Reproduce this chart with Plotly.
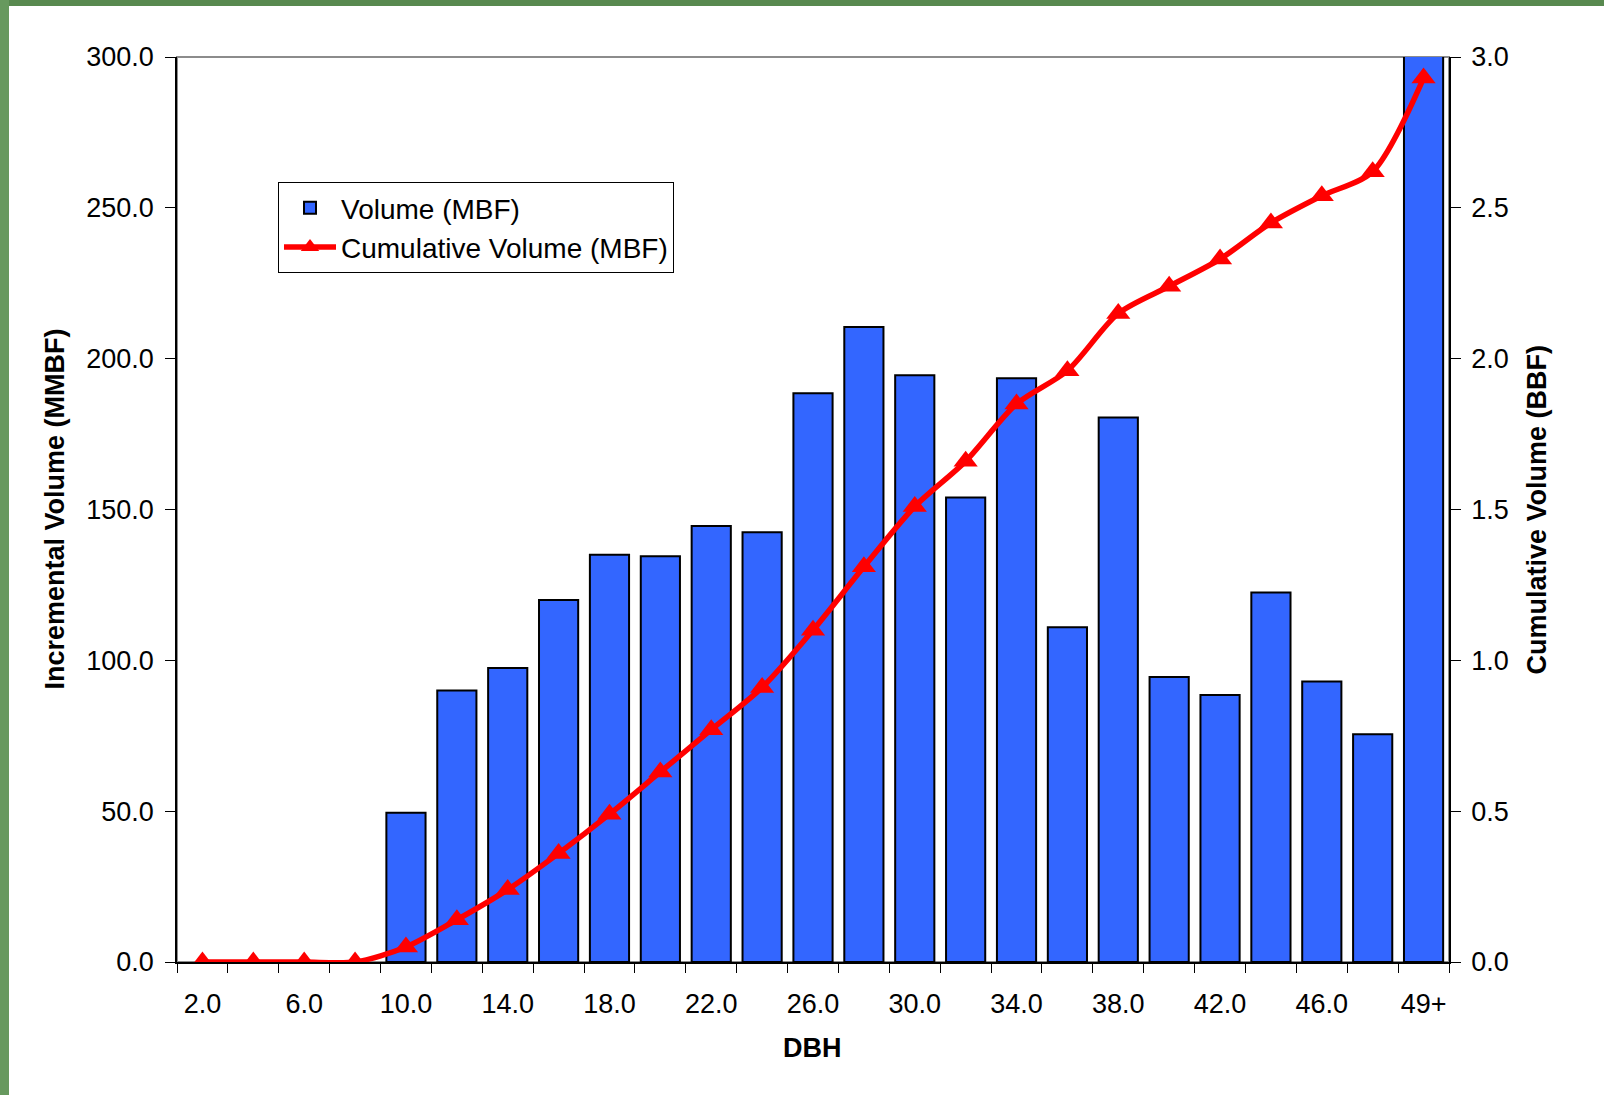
import plotly.graph_objects as go

# ---- data ----
dbh_labels = ["2.0", "4.0", "6.0", "8.0", "10.0", "12.0", "14.0", "16.0", "18.0", "20.0",
              "22.0", "24.0", "26.0", "28.0", "30.0", "32.0", "34.0", "36.0", "38.0", "40.0",
              "42.0", "44.0", "46.0", "48.0", "49+"]
volume_mmbf = [None, None, None, None, 49.5, 90.0, 97.5, 120.0, 135.0, 134.5,
               144.5, 142.5, 188.5, 210.5, 194.5, 154.0, 193.5, 111.0, 180.5, 94.5,
               88.5, 122.5, 93.0, 75.5, 310.0]
cumulative_bbf = [0.0, 0.0, 0.0, 0.0, 0.05, 0.14, 0.24, 0.36, 0.49, 0.63,
                  0.77, 0.91, 1.10, 1.31, 1.51, 1.66, 1.85, 1.96, 2.15, 2.24,
                  2.33, 2.45, 2.54, 2.62, 2.93]
tick_text = [lab if i % 2 == 0 else "" for i, lab in enumerate(dbh_labels)]

FONT = "Liberation Sans, Arial, sans-serif"
FS = 27

fig = go.Figure()
fig.add_trace(go.Bar(
    x=dbh_labels, y=volume_mmbf, name="Volume (MBF)",
    marker=dict(color="#3366FF", line=dict(color="black", width=2)),
    yaxis="y",
))
fig.add_trace(go.Scatter(
    x=dbh_labels, y=cumulative_bbf, name="Cumulative Volume (MBF)",
    mode="lines+markers",
    line=dict(color="#FF0000", width=5.5, shape="spline", smoothing=0.8),
    marker=dict(symbol="triangle-up", size=21, color="#FF0000"),
    yaxis="y2",
))

W, H = 1604, 1095
L, R, T, B = 177, 155, 57, 133
pw, ph = W - L - R, H - T - B

fig.update_layout(
    width=W, height=H,
    margin=dict(l=L, r=R, t=T, b=B, autoexpand=False),
    paper_bgcolor="white", plot_bgcolor="white",
    font=dict(family=FONT, size=FS, color="black"),
    bargap=0.23,
    showlegend=True,
    legend=dict(
        x=(278 - L) / pw, y=(T + ph - 182) / ph, xanchor="left", yanchor="top",
        bgcolor="white", bordercolor="black", borderwidth=1,
        font=dict(family=FONT, size=28, color="black"),
        tracegroupgap=0, itemwidth=52,
    ),
    xaxis=dict(
        type="category", categoryorder="array", categoryarray=dbh_labels,
        range=[-0.5, len(dbh_labels) - 0.5], autorange=False,
        tickmode="array", tickvals=dbh_labels, ticktext=tick_text, tickangle=0,
        tickson="boundaries", ticks="outside", ticklen=9, tickcolor="black",
        ticklabelstandoff=17,
        showline=True, linecolor="black", linewidth=1.5,
        showgrid=False, zeroline=False,
        tickfont=dict(family=FONT, size=FS, color="black"),
    ),
    yaxis=dict(
        range=[0, 300], dtick=50, tickformat=".1f",
        ticks="outside", ticklen=10, tickcolor="black",
        ticklabelstandoff=6,
        showline=True, linecolor="black", linewidth=1.5,
        showgrid=False, zeroline=False,
        tickfont=dict(family=FONT, size=FS, color="black"),
    ),
    yaxis2=dict(
        range=[0, 3], dtick=0.5, tickformat=".1f",
        overlaying="y", side="right",
        ticks="outside", ticklen=10, tickcolor="black",
        ticklabelstandoff=5,
        showline=True, linecolor="black", linewidth=1.5,
        showgrid=False, zeroline=False,
        tickfont=dict(family=FONT, size=FS, color="black"),
    ),
    shapes=[
        # gray plot-area border
        dict(type="rect", xref="paper", yref="paper", x0=0, x1=1, y0=0, y1=1,
             line=dict(color="#8C8C8C", width=2), layer="below"),
        # green frame (top and left)
        dict(type="rect", xref="paper", yref="paper",
             x0=-L / pw, x1=(W - L) / pw, y0=(ph + T - 6) / ph, y1=(ph + T) / ph,
             line=dict(width=0), fillcolor="#58894F", layer="above"),
        dict(type="rect", xref="paper", yref="paper",
             x0=-L / pw, x1=(-L + 9) / pw, y0=-B / ph, y1=(ph + T) / ph,
             line=dict(width=0), fillcolor="#67995E", layer="above"),
    ],
    annotations=[
        dict(text="<b>Incremental Volume (MMBF)</b>", xref="paper", yref="paper",
             x=(54 - L) / pw, y=0.5, textangle=-90, showarrow=False,
             xanchor="center", yanchor="middle", font=dict(family=FONT, size=FS)),
        dict(text="<b>Cumulative Volume (BBF)</b>", xref="paper", yref="paper",
             x=(1536 - L) / pw, y=0.5, textangle=-90, showarrow=False,
             xanchor="center", yanchor="middle", font=dict(family=FONT, size=FS)),
        dict(text="<b>DBH</b>", xref="paper", yref="paper",
             x=(812 - L) / pw, y=(T + ph - 1048) / ph, showarrow=False,
             xanchor="center", yanchor="middle", font=dict(family=FONT, size=FS)),
    ],
)

fig.write_html("out.html", config={"displayModeBar": False},
               post_script="document.body.style.margin='0';")
